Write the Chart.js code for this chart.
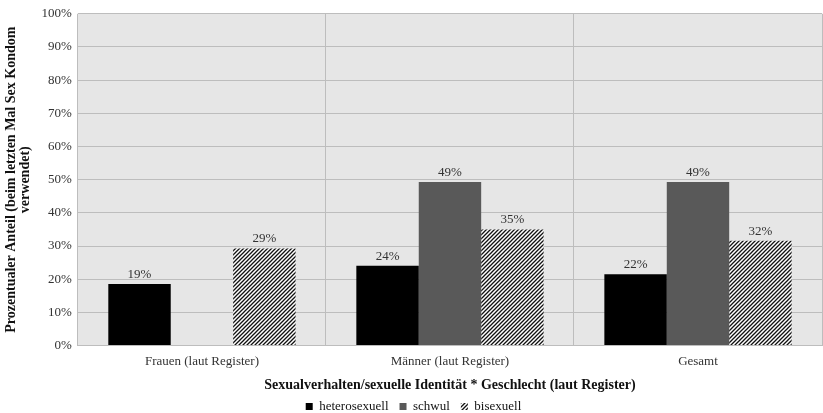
<!DOCTYPE html>
<html>
<head>
<meta charset="utf-8">
<script src="https://cdn.jsdelivr.net/npm/chart.js@4"></script>
<style>
  html, body { margin: 0; padding: 0; background: #fff; }
  #wrap { width: 823px; height: 413px; }
</style>
</head>
<body>
<div id="wrap"><canvas id="chart"></canvas></div>
<script>
// categories and values (percent)
const categories = ["Frauen (laut Register)", "Männer (laut Register)", "Gesamt"];
const heteroValues = [18.6, 24.1, 21.5];
const schwulValues = [null, 49.3, 49.3];
const bisexValues = [29.3, 35.0, 31.6];
const yTicks = [0, 10, 20, 30, 40, 50, 60, 70, 80, 90, 100];

// diagonal hatch for bisexuell
function makeHatch() {
  const c = document.createElement("canvas");
  c.width = 4; c.height = 4;
  const g = c.getContext("2d");
  g.fillStyle = "#fff";
  g.fillRect(0, 0, 4, 4);
  g.strokeStyle = "#111";
  g.lineWidth = 1.3;
  g.beginPath();
  g.moveTo(-1, 5); g.lineTo(5, -1);
  g.moveTo(-1, 1); g.lineTo(1, -1);
  g.moveTo(3, 5); g.lineTo(5, 3);
  g.stroke();
  return g.createPattern(c, "repeat");
}

// grey plot background
const plotBg = {
  id: "plotBg",
  beforeDraw(chart) {
    const { ctx, chartArea: a } = chart;
    ctx.save();
    ctx.fillStyle = "#e6e6e6";
    ctx.fillRect(a.left, a.top, a.right - a.left, a.bottom - a.top);
    ctx.restore();
  }
};

// percent labels above bars
const barLabels = {
  id: "barLabels",
  afterDatasetsDraw(chart) {
    const ctx = chart.ctx;
    ctx.save();
    ctx.font = "13px 'Liberation Serif'";
    ctx.fillStyle = "#333";
    ctx.textAlign = "center";
    ctx.textBaseline = "bottom";
    chart.data.datasets.forEach((ds, i) => {
      chart.getDatasetMeta(i).data.forEach((bar, j) => {
        const v = ds.data[j];
        if (v == null) return;
        ctx.fillText(Math.round(v) + "%", bar.x, bar.y - 3);
      });
    });
    ctx.restore();
  }
};

new Chart(document.getElementById("chart"), {
  type: "bar",
  data: {
    labels: categories,
    datasets: [
      { label: "heterosexuell", data: heteroValues, backgroundColor: "#000" },
      { label: "schwul", data: schwulValues, backgroundColor: "#595959" },
      { label: "bisexuell", data: bisexValues, backgroundColor: makeHatch() }
    ]
  },
  options: {
    responsive: true,
    maintainAspectRatio: false,
    animation: false,
    categoryPercentage: 0.755,
    barPercentage: 1,
    layout: { padding: { top: 1, right: 1, left: 5, bottom: -10 } },
    scales: {
      x: {
        grid: { color: "#bdbdbd", drawTicks: false },
        border: { display: false },
        ticks: { color: "#333", font: { family: "Liberation Serif", size: 13 }, padding: 8 },
        title: {
          display: true,
          text: "Sexualverhalten/sexuelle Identität * Geschlecht (laut Register)",
          color: "#111",
          font: { family: "Liberation Serif", size: 14, weight: "bold" },
          padding: { top: 0, bottom: -5 }
        }
      },
      y: {
        min: 0,
        max: 100,
        afterBuildTicks: (axis) => { axis.ticks = yTicks.map(v => ({ value: v })); },
        grid: { color: "#bdbdbd", drawTicks: false },
        border: { display: false },
        ticks: {
          color: "#333",
          font: { family: "Liberation Serif", size: 13 },
          padding: 6,
          callback: (v) => v + "%"
        },
        title: {
          display: true,
          text: ["Prozentualer Anteil (beim letzten Mal Sex Kondom", "verwendet)"],
          color: "#111",
          font: { family: "Liberation Serif", size: 14, weight: "bold", lineHeight: 0.95 },
          padding: { top: 0, bottom: 4 }
        }
      }
    },
    plugins: {
      legend: {
        position: "bottom",
        labels: {
          color: "#111",
          font: { family: "Liberation Serif", size: 13 },
          usePointStyle: true,
          pointStyle: "rect",
          boxWidth: 7,
          boxHeight: 7,
          padding: 11
        }
      },
      tooltip: { enabled: false }
    }
  },
  plugins: [plotBg, barLabels]
});
</script>
</body>
</html>
